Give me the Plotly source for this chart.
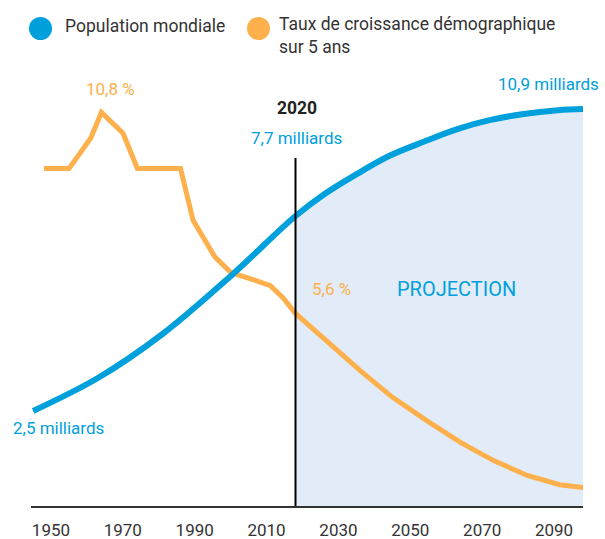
import plotly.graph_objects as go

# ---------------- data ----------------
pop_years = [1947, 1965, 1983, 2002, 2020, 2028, 2037, 2046, 2056, 2065, 2074, 2083, 2093, 2100]
pop_values = [2.57, 3.46, 4.65, 6.22, 7.84, 8.43, 8.97, 9.46, 9.86, 10.19, 10.43, 10.59, 10.70, 10.73]

growth_years = [1950, 1957, 1963, 1966, 1972, 1976, 1988, 1991.5, 1997.5, 2002, 2009, 2013, 2016.5, 2020,
                2038, 2047, 2056.5, 2066, 2075, 2084.5, 2093.5, 2100]
growth_values = [9.35, 9.35, 10.13, 10.8, 10.26, 9.35, 9.35, 8.01, 7.07, 6.66, 6.45, 6.32, 6.01, 5.6,
                 4.12, 3.43, 2.83, 2.26, 1.80, 1.41, 1.17, 1.10]

tick_years = [1950, 1970, 1990, 2010, 2030, 2050, 2070, 2090]
tick_labels = [str(y) for y in tick_years]
projection_start = 2020

BLUE = "#00A0DC"
ORANGE = "#FDB04C"
SHADE = "#E2ECF8"
DARK = "#333333"
FONT = "Roboto"

# layout in reference pixel space
W, H = 605, 539
L, R, T, B = 31, 22, 60, 34
PW, PH = W - L - R, H - T - B
# rendered page is a bit taller than the reference frame; scale vertical layout
S = 552 / 539
H_OUT = 552
POP_RANGE = [0, 12.03]
GROWTH_RANGE = [0.62, 12.13]


def px(x):
    return (x - L) / PW


def py(y):
    return (H - B - y) / PH


proj_years = [y for y in pop_years if y >= projection_start]
proj_values = [v for y, v in zip(pop_years, pop_values) if y >= projection_start]

fig = go.Figure()

# shaded projection area under the population curve (bottom layer)
fig.add_trace(go.Scatter(
    x=proj_years, y=proj_values, yaxis="y", mode="lines",
    line=dict(width=0, shape="spline", color=SHADE),
    fill="tozeroy", fillcolor=SHADE, hoverinfo="skip", showlegend=False))

# growth rate (middle layer)
fig.add_trace(go.Scatter(
    x=growth_years, y=growth_values, yaxis="y2", mode="lines",
    line=dict(color=ORANGE, width=5, shape="linear"),
    name="Taux de croissance démographique sur 5 ans", showlegend=False))

# population (top layer)
fig.add_trace(go.Scatter(
    x=pop_years, y=pop_values, yaxis="y3", mode="lines",
    line=dict(color=BLUE, width=6, shape="spline"),
    name="Population mondiale", showlegend=False))

shapes = [
    dict(type="line", xref="x", yref="paper", x0=projection_start, x1=projection_start,
         y0=0, y1=py(157), line=dict(color="black", width=2)),
    dict(type="circle", xref="paper", yref="paper", x0=px(29), x1=px(52), y0=py(16), y1=py(39),
         fillcolor=BLUE, line=dict(width=0)),
    dict(type="circle", xref="paper", yref="paper", x0=px(247), x1=px(270), y0=py(16), y1=py(39),
         fillcolor=ORANGE, line=dict(width=0)),
]


def ann(text, x, y, color, size, xanchor="center", bold=False):
    return dict(text=f"<b>{text}</b>" if bold else text, x=px(x), y=py(y), xref="paper", yref="paper",
                showarrow=False, xanchor=xanchor, yanchor="middle",
                font=dict(family=FONT, size=size, color=color), align="left")


annotations = [
    ann("Population mondiale", 63, 25, DARK, 17.5, xanchor="left"),
    ann("Taux de croissance démographique<br>sur 5 ans", 277, 34, DARK, 17.5, xanchor="left"),
    ann("10,8 %", 110, 88, ORANGE, 17),
    ann("2020", 297, 107, "#222222", 17.5, bold=True),
    ann("7,7 milliards", 296, 137, BLUE, 17),
    ann("5,6 %", 331, 288, ORANGE, 17),
    ann("PROJECTION", 456, 288, BLUE, 20),
    ann("2,5 milliards", 58, 427, BLUE, 17),
    ann("10,9 milliards", 548, 83, BLUE, 17),
]

fig.update_layout(
    width=W, height=H_OUT,
    margin=dict(l=L, r=R, t=T * S, b=B * S, pad=0),
    paper_bgcolor="white", plot_bgcolor="rgba(0,0,0,0)",
    font=dict(family=FONT, color=DARK),
    showlegend=False,
    shapes=shapes,
    annotations=annotations,
    xaxis=dict(range=[1946.4, 2100], tickvals=tick_years, ticktext=tick_labels,
               showgrid=False, zeroline=False, showline=True, linecolor=DARK, linewidth=1.5,
               ticks="", tickfont=dict(family=FONT, size=17, color=DARK),
               ticklabelshift=7, ticklabelstandoff=8, fixedrange=True),
    yaxis=dict(range=POP_RANGE, visible=False, fixedrange=True),
    yaxis2=dict(range=GROWTH_RANGE, overlaying="y", visible=False, fixedrange=True),
    yaxis3=dict(range=POP_RANGE, overlaying="y", visible=False, fixedrange=True),
)

POST = (
    "document.documentElement.style.margin='0';"
    "document.documentElement.style.overflow='hidden';"
    "document.body.style.margin='0';"
    "document.body.style.overflow='hidden';"
    "var d=document.querySelector('.plotly-graph-div');"
    "d.style.position='fixed';d.style.left='0px';d.style.top='0px';"
)

fig.write_html("out.html", config={"displayModeBar": False, "staticPlot": True}, post_script=POST)
